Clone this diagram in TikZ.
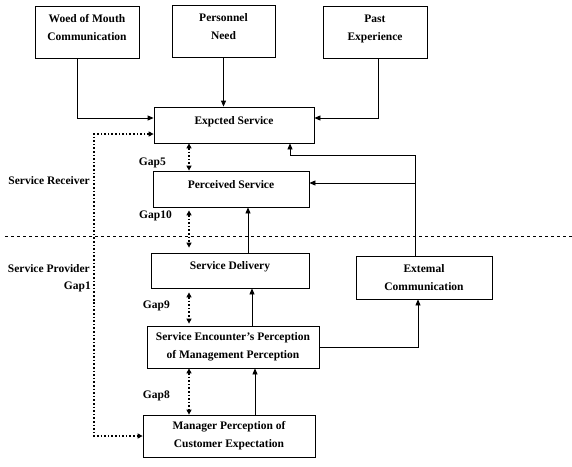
\documentclass[tikz,border=0pt]{standalone}
\usepackage{fontspec}
\setmainfont{Liberation Serif}
\usepackage{tikz}
\usetikzlibrary{arrows.meta, positioning, calc}

\begin{document}
\begin{tikzpicture}[x=1pt, y=-1pt,
  box/.style={rectangle, draw, line width=0.8pt, align=center, inner sep=2pt,
    font=\fontsize{11.5}{18}\selectfont\bfseries},
  raised/.style={execute at end node={\rule[-9pt]{0pt}{1pt}}},
  lbl/.style={font=\fontsize{11.5}{14}\selectfont\bfseries, inner sep=1pt},
  arr/.style={line width=0.8pt, -{Triangle[length=6pt,width=5pt]}},
  gaparr/.style={line width=1.6pt, dotted, {Triangle[length=5pt,width=5pt]}-{Triangle[length=5pt,width=5pt]}}
]
  \useasboundingbox (0,0) rectangle (572,466);

  % customer side
  \node[box, raised, minimum width=104pt, minimum height=52pt] (wom) at (87,32) {Woed of Mouth\\Communication};
  \node[box, raised, minimum width=103pt, minimum height=52pt] (need) at (223.5,31) {Personnel\\Need};
  \node[box, raised, minimum width=104pt, minimum height=52pt] (past) at (375,32) {Past\\Experience};
  \node[box, raised, minimum width=160pt, minimum height=36pt] (expected) at (234,125) {Expcted Service};
  \node[box, raised, minimum width=156pt, minimum height=36pt] (perceived) at (231,189) {Perceived Service};

  % provider side
  \node[box, raised, minimum width=158pt, minimum height=35pt] (delivery) at (230,270.5) {Service Delivery};
  \node[box, minimum width=136pt, minimum height=43pt] (external) at (424,277.5) {Extemal\\Communication};
  \node[box, minimum width=172pt, minimum height=42pt] (encounter) at (233,347) {Service Encounter's Perception\\of Management Perception};
  \node[box, minimum width=172pt, minimum height=42pt] (manager) at (229,436) {Manager Perception of\\Customer Expectation};

  % side labels
  \node[lbl, anchor=east] (receiver) at (91,181) {Service Receiver};
  \node[lbl, anchor=east] (provider) at (91,269) {Service Provider};
  \node[lbl, anchor=east] (gap1) at (92,287) {Gap1};
  \node[lbl, anchor=east] (gap5) at (167,163) {Gap5};
  \node[lbl, anchor=east] (gap10) at (173,216) {Gap10};
  \node[lbl, anchor=east] (gap9) at (171,306) {Gap9};
  \node[lbl, anchor=east] (gap8) at (171,396) {Gap8};

  \draw[dashed, line width=0.6pt] (5,236) -- (572,236);

  \coordinate (gx) at (189,0);
  \coordinate (gone) at (94,300);
  \coordinate (fbx) at ([xshift=-9pt]external.north);

  % solid connectors
  \draw[arr] ([xshift=-10pt]wom.south) |- ([yshift=7pt]expected.west);
  \draw[arr] (need.south) -- (need.south |- expected.north);
  \draw[arr] ([xshift=3pt]past.south) |- ([yshift=7pt]expected.east);
  \draw[arr] (fbx) |- ([xshift=56pt,yshift=-12pt]expected.south) -- ([xshift=56pt]expected.south);
  \draw[arr] ([yshift=6pt]perceived.east -| fbx) -- ([yshift=6pt]perceived.east);
  \draw[arr] ([xshift=18pt]delivery.north) -- ([xshift=18pt]delivery.north |- perceived.south);
  \draw[arr] ([xshift=19pt]encounter.north) -- ([xshift=19pt]encounter.north |- delivery.south);
  \draw[arr] ([xshift=26pt]manager.north) -- ([xshift=26pt]manager.north |- encounter.south);
  \draw[arr] (encounter.east) -| ([xshift=-6pt]external.south);

  % gaps
  \draw[gaparr] ([yshift=-9pt]expected.west) -| (gone) |- (manager.west);
  \draw[gaparr] (expected.south -| gx) -- (perceived.north -| gx);
  \draw[gaparr] ([yshift=-3pt]perceived.south -| gx) -- ([yshift=5pt]delivery.north -| gx);
  \draw[gaparr] ([yshift=-4pt]delivery.south -| gx) -- ([yshift=2pt]encounter.north -| gx);
  \draw[gaparr] (encounter.south -| gx) -- (manager.north -| gx);
\end{tikzpicture}
\end{document}
